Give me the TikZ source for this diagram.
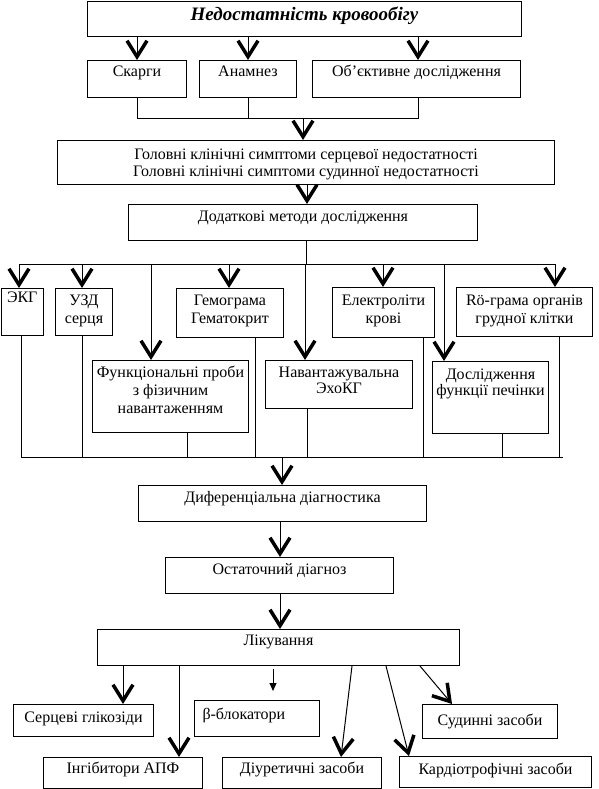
\documentclass[tikz,border=0pt]{standalone}
\usepackage{fontspec}
\setmainfont{Liberation Serif}
\usetikzlibrary{arrows.meta}

\newcommand{\boxfont}{\fontsize{16}{18}\selectfont}
\newcommand{\tightfont}{\fontsize{16}{16}\selectfont}

\begin{document}
\begin{tikzpicture}[x=1pt, y=-1pt, line width=1pt,
  box/.style={draw, anchor=north west, inner sep=1pt, align=center, font=\boxfont, text height=11pt},
  vee/.style={-{Straight Barb[length=16pt, width=20pt, line width=3.5pt]}},
  pin/.style={-{Triangle[length=8pt, width=7pt]}}]
\useasboundingbox (0,0) rectangle (598,789);

\node[box, minimum width=434pt, minimum height=35pt, text depth=8pt, font=\fontsize{19}{21}\selectfont\bfseries\itshape] (head) at (87,1) {Недостатність кровообігу};

\node[box, minimum width=99pt, minimum height=37pt, text depth=15pt] (skarg) at (87,60) {Скарги};
\node[box, minimum width=97pt, minimum height=37pt, text depth=15pt] (anam) at (199,60) {Анамнез};
\node[box, minimum width=208pt, minimum height=37pt, text depth=15pt] (obj) at (312,60) {Об’єктивне дослідження};

\node[box, minimum width=497pt, minimum height=44pt, text height=28pt, text depth=0pt, font=\fontsize{16}{17}\selectfont] (symp) at (57,140) {Головні клінічні симптоми серцевої недостатності\\Головні клінічні симптоми судинної недостатності};
\node[box, minimum width=349pt, minimum height=36pt, text depth=12.4pt] (meth) at (128,204) {Додаткові методи дослідження};

\node[box, minimum width=42.5pt, minimum height=47pt, text depth=30pt] (ekg) at (0.5,288) {ЭКГ};
\node[box, minimum width=57pt, minimum height=47pt, text height=29pt, text depth=5.4pt] (uzd) at (55,288) {УЗД\\серця};
\node[box, minimum width=107pt, minimum height=49pt, text height=29pt, text depth=7.4pt] (hem) at (176,288) {Гемограма\\Гематокрит};
\node[box, minimum width=102pt, minimum height=50pt, text height=29pt, text depth=6.4pt] (elec) at (332,287) {Електроліти\\крові};
\node[box, minimum width=136pt, minimum height=49pt, text height=29pt, text depth=5.4pt] (rtg) at (456,287) {Rö-грама органів\\грудної клітки};

\node[box, minimum width=156pt, minimum height=72pt, text height=47pt, text depth=12.4pt] (func) at (92,360) {Функціональні проби\\з фізичним\\навантаженням};
\node[box, minimum width=147pt, minimum height=48pt, text height=27pt, text depth=9pt, font=\tightfont] (echo) at (265,360) {Навантажувальна\\ЭхоКГ};
\node[box, minimum width=116pt, minimum height=72pt, text height=27pt, text depth=30.4pt, font=\tightfont] (liver) at (432,361) {Дослідження\\функції печінки};

\node[box, minimum width=288pt, minimum height=36pt, text depth=13pt] (diff) at (138,485) {Диференціальна діагностика};
\node[box, minimum width=228pt, minimum height=36pt, text depth=12.4pt] (final) at (165,557) {Остаточний діагноз};
\node[box, minimum width=362pt, minimum height=36pt, text depth=14.4pt] (lik) at (97,629) {Лікування};

\node[box, minimum width=140pt, minimum height=32pt, text depth=7pt] (serc) at (13,704) {Серцеві глікозіди};
\node[box, minimum width=125pt, minimum height=36pt, text depth=10pt, text width=109pt, align=left] (beta) at (194,700) {β-блокатори};
\node[box, minimum width=135pt, minimum height=34pt, text depth=3pt] (sud) at (422,704) {Судинні засоби};
\node[box, minimum width=159pt, minimum height=31pt, text depth=10pt] (inh) at (43,757) {Інгібитори АПФ};
\node[box, minimum width=159pt, minimum height=31pt, text depth=10pt] (diur) at (222,757) {Діуретичні засоби};
\node[box, minimum width=192pt, minimum height=31pt, text depth=6pt] (kard) at (399,756) {Кардіотрофічні засоби};

% top part
\coordinate (a1) at (137,0);
\coordinate (a2) at (248,0);
\coordinate (a3) at (418,0);
\coordinate (a4) at (303,0);
\coordinate (a5) at (307,0);
\coordinate (a6) at (306,0);
\coordinate (bus1) at (0,119);
\foreach \n/\c in {skarg/a1, anam/a2, obj/a3} {
  \draw[vee] (head.south -| \c) -- (\n.north -| \c);
  \draw (\n.south -| \c) -- (bus1 -| \c);
}
\draw (bus1 -| a1) -- (bus1 -| a3);
\draw[vee] (bus1 -| a4) -- (symp.north -| a4);
\draw[vee] (symp.south -| a5) -- (meth.north -| a5);

% methods
\coordinate (bus2) at (0,264);
\coordinate (bus3) at (0,457);
\coordinate (b2l) at (19,264);
\coordinate (b2r) at (556,264);
\coordinate (b3l) at (21,457);
\coordinate (b3r) at (563,457);
\draw (meth.south -| a6) -- (bus2 -| a6);
\draw (b2l) -- (b2r);
\draw (b3l) -- (b3r);
\foreach \n/\x/\u in {ekg/19/21, uzd/82/82, func/151/187, hem/229/255, echo/305/307, elec/383/423, liver/444/502, rtg/555/559} {
  \coordinate (d\n) at (\x,264);
  \coordinate (u\n) at (\u,457);
  \draw[vee] (d\n) -- (\n.north -| d\n);
  \draw (\n.south -| u\n) -- (u\n);
}

% diagnosis
\coordinate (a7) at (282,0);
\coordinate (a8) at (280,0);
\draw[vee] (bus3 -| a7) -- (diff.north -| a7);
\draw[vee] (diff.south -| a8) -- (final.north -| a8);
\draw[vee] (final.south -| a8) -- (lik.north -| a8);

% treatment
\foreach \n/\s/\e in {serc/123/123, inh/179/179, diur/352/341, kard/386/409, sud/420/452} {
  \coordinate (s\n) at (\s,0);
  \coordinate (e\n) at (\e,0);
  \draw[vee] (lik.south -| s\n) -- (\n.north -| e\n);
}
\coordinate (bt) at (273,691);
\draw[pin, shorten <=3pt] (lik.south -| bt) -- (bt);
\end{tikzpicture}
\end{document}
